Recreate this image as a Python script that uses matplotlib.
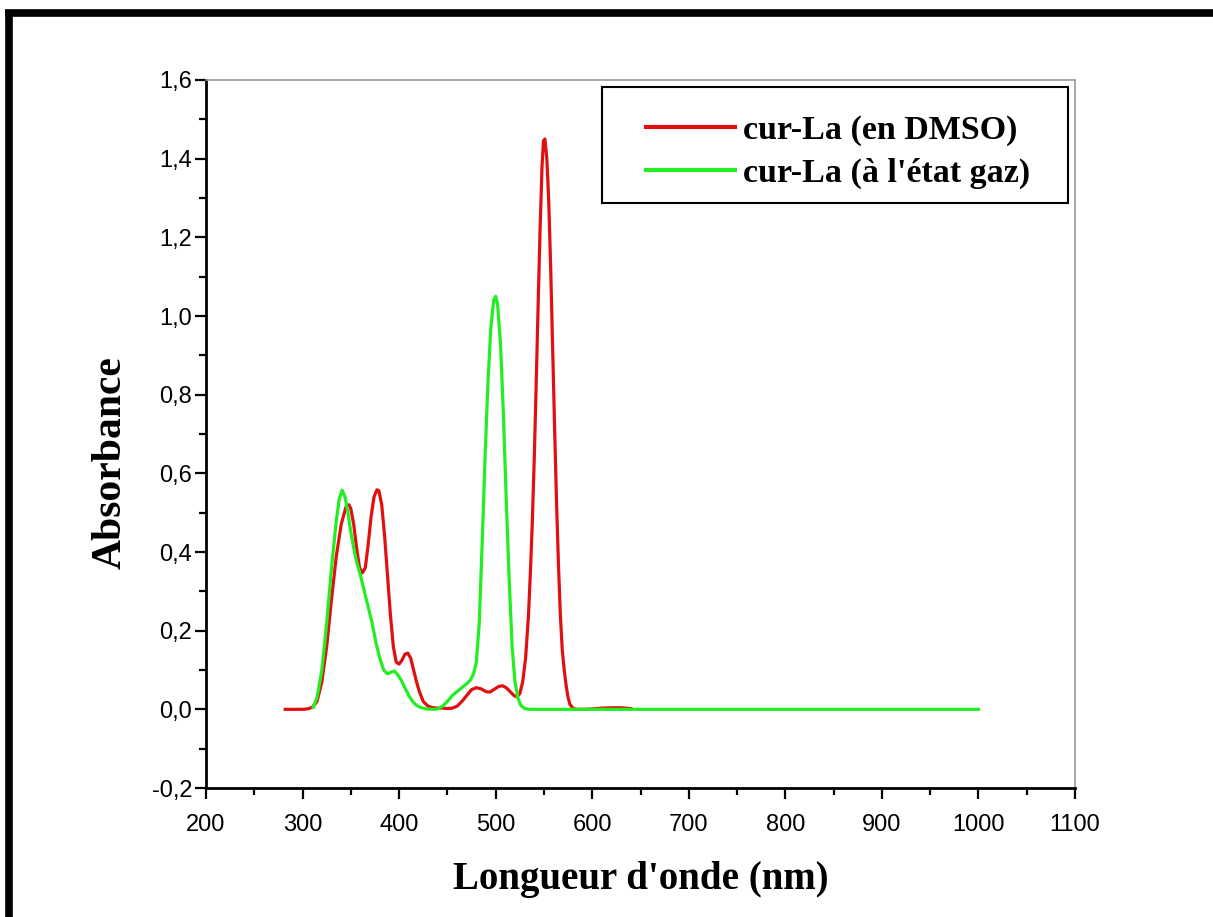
import matplotlib
matplotlib.use("Agg")
import matplotlib.pyplot as plt
from matplotlib.lines import Line2D
from matplotlib.patches import Rectangle
from matplotlib.ticker import MultipleLocator, FuncFormatter

# cur-La in DMSO (wavelength nm, absorbance)
dmso_nm = [282, 290, 300, 305, 310, 315, 320, 325, 330, 335, 340, 345, 348, 350,
           353, 356, 359, 362, 365, 368, 371, 374, 377, 379, 382, 385, 388, 391,
           394, 397, 400, 403, 406, 409, 412, 415, 418, 421, 425, 430, 435, 440,
           445, 450, 455, 460, 465, 470, 475, 480, 485, 490, 494, 498, 503, 507,
           511, 515, 519, 522, 525, 528, 531, 534, 536, 538, 540, 542, 544, 546,
           548, 549.5, 551, 553, 555, 557, 559, 561, 563, 565, 567, 569, 571,
           573, 575, 577, 580, 583, 590, 600, 610, 620, 630, 640]
dmso_abs = [0.0, 0.0, 0.0, 0.001, 0.005, 0.02, 0.07, 0.16, 0.28, 0.39, 0.47, 0.515,
            0.52, 0.51, 0.47, 0.41, 0.36, 0.347, 0.36, 0.42, 0.49, 0.54, 0.558,
            0.556, 0.52, 0.44, 0.34, 0.24, 0.16, 0.12, 0.115, 0.125, 0.14, 0.143,
            0.13, 0.10, 0.07, 0.045, 0.02, 0.008, 0.004, 0.003, 0.003, 0.002,
            0.003, 0.008, 0.02, 0.035, 0.05, 0.055, 0.052, 0.045, 0.044, 0.05,
            0.058, 0.06, 0.055, 0.045, 0.035, 0.032, 0.04, 0.07, 0.13, 0.24,
            0.35, 0.48, 0.64, 0.83, 1.03, 1.22, 1.38, 1.445, 1.45, 1.40, 1.29,
            1.12, 0.92, 0.72, 0.53, 0.37, 0.24, 0.15, 0.10, 0.06, 0.03, 0.012,
            0.003, 0.0, 0.0, 0.001, 0.003, 0.004, 0.004, 0.002]

# cur-La in gas phase
gas_nm = [311, 315, 320, 325, 330, 335, 338, 341, 344, 347, 350, 353, 356, 360,
          364, 368, 372, 376, 380, 384, 388, 392, 395, 398, 402, 406, 410, 414,
          418, 422, 428, 435, 440, 445, 450, 455, 460, 465, 470, 474, 477, 480,
          483, 486, 489, 492, 495, 498, 500, 502, 505, 508, 511, 514, 517, 520,
          523, 526, 530, 535, 600, 700, 800, 900, 1000]
gas_abs = [0.005, 0.03, 0.1, 0.22, 0.36, 0.48, 0.535, 0.557, 0.54, 0.5, 0.45,
           0.41, 0.375, 0.34, 0.3, 0.26, 0.22, 0.17, 0.13, 0.1, 0.09, 0.095,
           0.097, 0.09, 0.075, 0.055, 0.035, 0.02, 0.01, 0.005, 0.001, 0.0,
           0.001, 0.008, 0.02, 0.035, 0.045, 0.055, 0.065, 0.075, 0.09, 0.12,
           0.22, 0.42, 0.64, 0.83, 0.97, 1.04, 1.05, 1.03, 0.93, 0.75, 0.53,
           0.33, 0.16, 0.07, 0.03, 0.01, 0.002, 0.0, 0.0, 0.0, 0.0, 0.0, 0.0]

labels = ["cur-La (en DMSO)", "cur-La (à l'état gaz)"]

W, H = 1213, 917
fig = plt.figure(figsize=(W / 100, H / 100), dpi=100)
ax = fig.add_axes([206 / W, 1 - 788 / H, (1075 - 206) / W, (788 - 80) / H])

ax.plot(dmso_nm, dmso_abs, color="#e01010", lw=2.3, label=labels[0])
ax.plot(gas_nm, gas_abs, color="#22ee22", lw=2.3, label=labels[1])

ax.set_xlim(200, 1100)
ax.set_ylim(-0.2, 1.6)
ax.xaxis.set_major_locator(MultipleLocator(100))
ax.xaxis.set_minor_locator(MultipleLocator(50))
ax.yaxis.set_major_locator(MultipleLocator(0.2))
ax.yaxis.set_minor_locator(MultipleLocator(0.1))
ax.yaxis.set_major_formatter(FuncFormatter(lambda v, p: f"{v:.1f}".replace(".", ",")))

for lab in ax.get_xticklabels() + ax.get_yticklabels():
    lab.set_fontfamily("Liberation Sans")
    lab.set_fontsize(17)
ax.tick_params(which="major", direction="out", length=8, width=1.6)
ax.tick_params(which="minor", direction="out", length=5, width=1.6)
ax.tick_params(axis="x", which="major", pad=11)
ax.tick_params(axis="y", which="major", pad=2)

for side in ("left", "bottom"):
    ax.spines[side].set_linewidth(2)
    ax.spines[side].set_color("black")
for side in ("top", "right"):
    ax.spines[side].set_linewidth(1.2)
    ax.spines[side].set_color("#9a9a9a")

ax.set_xlabel("Longueur d'onde (nm)", family="Liberation Serif", weight="bold",
              size=28, labelpad=18)
ax.set_ylabel("Absorbance", family="Liberation Serif", weight="bold", size=30)
ax.yaxis.set_label_coords(-0.088, 0.46)

# legend box: frame drawn separately so the padding can be wider than tall
box_x0, box_y0, box_w, box_h = 0.4557, 0.8263, 0.5363, 0.1638
ax.add_patch(Rectangle((box_x0, box_y0), box_w, box_h, transform=ax.transAxes,
                       facecolor="white", edgecolor="black", lw=1.5, zorder=4))
leg = ax.legend(loc="center", bbox_to_anchor=(box_x0 + box_w / 2 + 0.004, box_y0 + box_h / 2 - 0.01),
                frameon=False, handlelength=2.6, borderpad=0, labelspacing=0.35,
                handletextpad=0.25,
                prop={"family": "Liberation Serif", "weight": "bold", "size": 24.5})
leg.set_zorder(5)
for h in leg.get_lines():
    h.set_linewidth(3)

# thick black frame along the top and left of the picture
fig.add_artist(Line2D([5 / W, 1], [1 - 13 / H, 1 - 13 / H], color="black", lw=5.5,
                      solid_capstyle="butt"))
fig.add_artist(Line2D([8.5 / W, 8.5 / W], [0, 1 - 10 / H], color="black", lw=5.5,
                      solid_capstyle="butt"))

fig.savefig("out.png", dpi=100)
